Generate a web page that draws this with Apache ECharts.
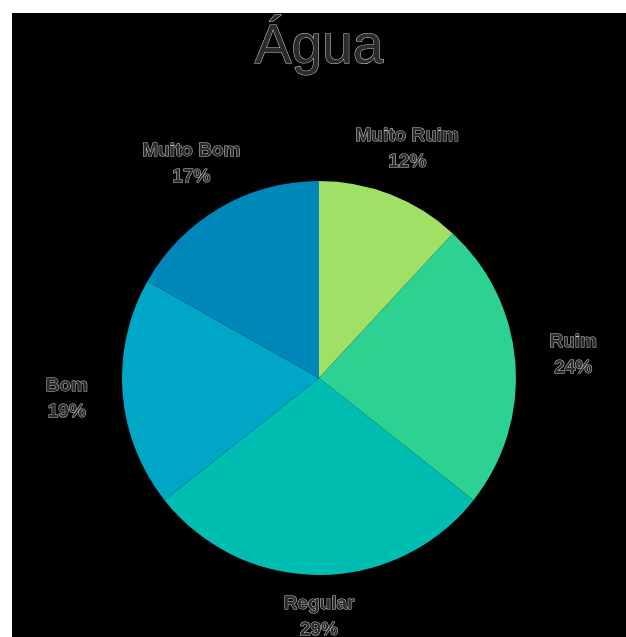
<!DOCTYPE html>
<html>
<head>
<meta charset="utf-8">
<script src="https://cdn.jsdelivr.net/npm/echarts@6/dist/echarts.min.js"></script>
<style>
  html, body { margin: 0; padding: 0; background: #fff; }
  #chart { position: absolute; left: 12px; top: 13px; width: 614px; height: 624px; background: #000; }
</style>
</head>
<body>
<div id="chart"></div>
<script>
// categorias e valores (%)
var categories = ['Muito Ruim', 'Ruim', 'Regular', 'Bom', 'Muito Bom'];
var values = [12, 24, 29, 19, 17];
var colors = ['#a0e066', '#2dd293', '#00bdb2', '#00a6c5', '#0087ba'];
// pequenos deslocamentos dos rótulos para aproximar da figura
var labelDx = [-4, 2, 0, 0, 0];
var labelDy = [6, -4, -14, 1, 4];

var chart = echarts.init(document.getElementById('chart'));

var textStyle = {
  color: '#2b2b2b',
  textBorderColor: '#c8c8c8',
  textBorderWidth: 1,
  fontFamily: 'Liberation Sans, Arial, sans-serif'
};

var option = {
  backgroundColor: '#000',
  animation: false,
  title: {
    text: 'Água',
    left: 'center',
    top: 2,
    textStyle: Object.assign({}, textStyle, { fontSize: 55, fontWeight: 'normal' })
  },
  series: [{
    type: 'pie',
    center: [307, 365],
    radius: [0, 197],
    startAngle: 90,
    clockwise: true,
    label: { show: false },
    labelLine: { show: false },
    data: categories.map(function (name, i) {
      return { name: name, value: values[i], itemStyle: { color: colors[i] } };
    })
  }, {
    // anel transparente só para posicionar os rótulos
    type: 'pie',
    center: [307, 365],
    radius: [197, 303],
    startAngle: 90,
    clockwise: true,
    silent: true,
    itemStyle: { color: 'transparent' },
    label: Object.assign({}, textStyle, {
      show: true,
      position: 'inside',
      fontSize: 19,
      fontWeight: 'bold',
      lineHeight: 26,
      formatter: function (p) { return p.name + '\n' + p.value + '%'; }
    }),
    labelLine: { show: false },
    labelLayout: function (params) {
      return { dx: labelDx[params.dataIndex], dy: labelDy[params.dataIndex] };
    },
    data: categories.map(function (name, i) {
      return { name: name, value: values[i] };
    })
  }]
};

chart.setOption(option);
</script>
</body>
</html>
